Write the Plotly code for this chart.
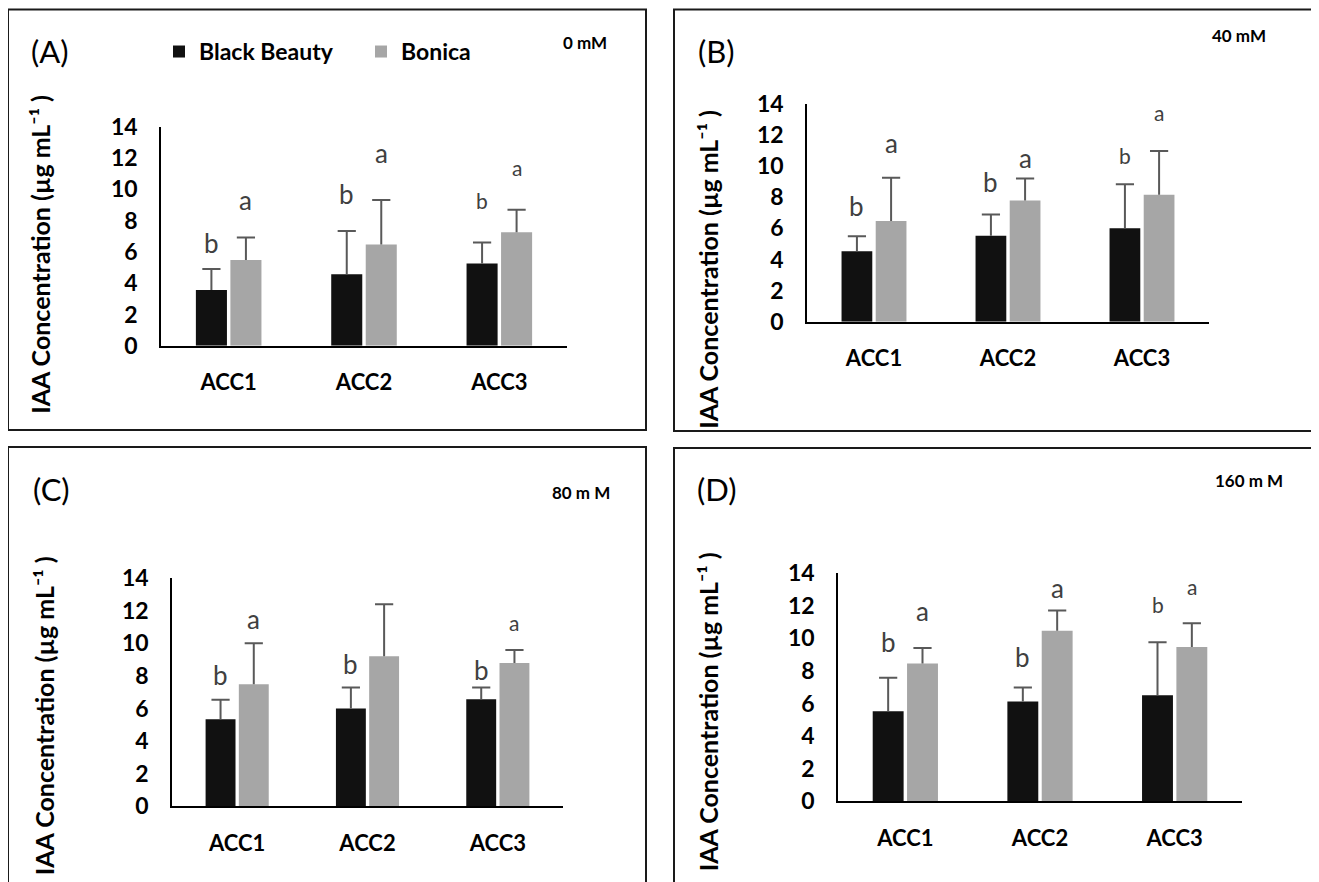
import plotly.graph_objects as go

# The page is photographed with a small vertical squeeze and a top offset;
# reference pixel positions are mapped through these to figure pixels.
W, H = 1311, 874
OX = 8          # horizontal page offset (body margin)
SY = 0.967      # vertical scale of the photographed page
TY = 25.3       # figure top, in page pixels

categories = ["ACC1", "ACC2", "ACC3"]
series_names = ["Black Beauty", "Bonica"]
panel_labels = ["(A)", "(B)", "(C)", "(D)"]
salt_labels = ["0 mM", "40 mM", "80 m M", "160 m M"]
y_title = "IAA Concentration (µg mL⁻¹ )"

# Mean IAA concentration (µg mL-1) per panel
bb_A = [3.57, 4.57, 5.26]
bon_A = [5.49, 6.47, 7.26]
bb_B = [4.53, 5.53, 6.00]
bon_B = [6.47, 7.78, 8.16]
bb_C = [5.34, 6.00, 6.57]
bon_C = [7.49, 9.20, 8.79]
bb_D = [5.52, 6.12, 6.51]
bon_D = [8.46, 10.47, 9.47]

# Positive error (SD)
bb_err_A = [1.34, 2.76, 1.34]
bon_err_A = [1.43, 2.85, 1.44]
bb_err_B = [0.96, 1.35, 2.82]
bon_err_B = [2.78, 1.41, 2.80]
bb_err_C = [1.19, 1.29, 0.72]
bon_err_C = [2.51, 3.20, 0.80]
bb_err_D = [2.06, 0.86, 3.24]
bon_err_D = [0.94, 1.23, 1.45]

# Significance letters and the height at which they are written
bb_letters = ["b", "b", "b"]
bon_letters = ["a", "a", "a"]
bb_let_y_A = [6.6, 9.7, 9.3]
bon_let_y_A = [9.3, 12.3, 11.4]
bb_let_y_B = [7.4, 9.0, 10.7]
bon_let_y_B = [11.5, 10.5, 13.4]
bb_let_y_C = [8.05, 8.7, 8.36]
bon_let_y_C = [11.46, 14.4, 11.3]
bb_let_y_D = [9.75, 8.83, 12.05]
bon_let_y_D = [11.7, 13.1, 13.2]
# small-letter flags (ACC1, ACC2, ACC3)
bb_small = {"A": [0, 0, 1], "B": [0, 0, 1], "C": [0, 0, 0], "D": [0, 0, 1]}
bon_small = {"A": [0, 0, 1], "B": [0, 0, 1], "C": [0, 0, 1], "D": [0, 0, 1]}

y_ticks = [0, 2, 4, 6, 8, 10, 12, 14]

FONT = "Lato, 'Open Sans', sans-serif"
BLACK = "#111111"
GRAY = "#a6a6a6"
ERR = "#595959"
LET = "#404040"
BARGAP = 0.49
GROUPGAP = 0.10


def px_x(p):
    return (p - OX) / W


def px_y(p):
    return 1 - (p / SY - TY) / H


# pixel geometry (reference picture pixels): plot area (x0, x1, y_at_0, y_at_14), frame, texts
panels = {
    "A": dict(plot=(161, 567, 347, 128), frame=(8, 646, 11, 431),
              lab=(50, 52), salt=(585, 44), ytitle=(40, 256)),
    "B": dict(plot=(807, 1209, 323, 105), frame=(674, 1318, 11, 432),
              lab=(716, 52), salt=(1239, 37), ytitle=(708, 270)),
    "C": dict(plot=(172, 563, 807, 579), frame=(8, 646, 448, 905),
              lab=(51, 490), salt=(581, 493), ytitle=(44, 717)),
    "D": dict(plot=(838, 1242, 802, 574), frame=(674, 1318, 449, 905),
              lab=(717, 490), salt=(1249, 482), ytitle=(708, 712)),
}

data = {
    "A": (bb_A, bon_A, bb_err_A, bon_err_A, bb_let_y_A, bon_let_y_A),
    "B": (bb_B, bon_B, bb_err_B, bon_err_B, bb_let_y_B, bon_let_y_B),
    "C": (bb_C, bon_C, bb_err_C, bon_err_C, bb_let_y_C, bon_let_y_C),
    "D": (bb_D, bon_D, bb_err_D, bon_err_D, bb_let_y_D, bon_let_y_D),
}

cat_idx = list(range(len(categories)))
slot = (1 - BARGAP) / 2
offsets = [-slot / 2, slot / 2]

fig = go.Figure()
layout = dict(
    width=W, height=H, margin=dict(l=0, r=0, t=0, b=0),
    paper_bgcolor="white", plot_bgcolor="white",
    barmode="group", bargap=BARGAP, bargroupgap=GROUPGAP,
    font=dict(family=FONT, color="black"),
    showlegend=True,
    legend=dict(orientation="h", x=px_x(159), y=px_y(53), yanchor="middle",
                xanchor="left", font=dict(family=FONT, size=23, weight=700, color="black"),
                bgcolor="rgba(0,0,0,0)", entrywidth=157, entrywidthmode="pixels",
                traceorder="normal"),
)
annotations = []
shapes = []

for i, key in enumerate(["A", "B", "C", "D"]):
    n = "" if i == 0 else str(i + 1)
    p = panels[key]
    x0, x1, y0p, y14p = p["plot"]
    bb, bon, bbe, bone, bly, bonly = data[key]

    for s, (vals, errs, color) in enumerate([(bb, bbe, BLACK), (bon, bone, GRAY)]):
        fig.add_trace(go.Bar(
            x=cat_idx, y=vals, name=series_names[s],
            marker=dict(color=color, line=dict(width=0)),
            xaxis="x" + n, yaxis="y" + n,
            showlegend=(i == 0), legendgroup=series_names[s],
        ))
    for s, (vals, errs) in enumerate([(bb, bbe), (bon, bone)]):
        # upward error bar: cap marker at mean + SD, stem down to the bar top
        tops = [v + e for v, e in zip(vals, errs)]
        fig.add_trace(go.Scatter(
            x=[c + offsets[s] for c in cat_idx], y=tops, mode="markers",
            marker=dict(symbol="line-ew", size=13, color=ERR,
                        line=dict(color=ERR, width=2)),
            error_y=dict(type="data", array=[0] * len(errs), arrayminus=errs,
                         symmetric=False, color=ERR, thickness=2, width=0),
            xaxis="x" + n, yaxis="y" + n,
            showlegend=False, hoverinfo="skip",
        ))

    layout["xaxis" + n] = dict(
        domain=[px_x(x0), px_x(x1)], anchor="y" + n, type="linear",
        range=[-0.5, 2.5], tickvals=cat_idx, ticktext=categories,
        showline=True, linecolor="black", linewidth=2,
        showgrid=False, zeroline=False, ticks="", ticklabelstandoff=16,
        tickfont=dict(family=FONT, size=22, weight=700, color="black"),
        fixedrange=True,
    )
    layout["yaxis" + n] = dict(
        domain=[px_y(y0p), px_y(y14p)], anchor="x" + n, range=[0, 14],
        tickvals=y_ticks, showline=True, linecolor="black", linewidth=1.5,
        showgrid=False, zeroline=False, ticks="", ticklabelstandoff=17,
        tickfont=dict(family=FONT, size=23, weight=700, color="black"),
        fixedrange=True,
    )

    # significance letters
    for s, (letters, ly, small) in enumerate([(bb_letters, bly, bb_small[key]),
                                              (bon_letters, bonly, bon_small[key])]):
        for c in cat_idx:
            annotations.append(dict(
                x=c + offsets[s], y=ly[c], xref="x" + n, yref="y" + n,
                text=letters[c], showarrow=False, xanchor="center", yanchor="middle",
                font=dict(family=FONT, size=21 if small[c] else 26, color=LET),
            ))

    # panel label, salt concentration, y title
    annotations.append(dict(x=px_x(p["lab"][0]), y=px_y(p["lab"][1]), xref="paper", yref="paper",
                            text=panel_labels[i], showarrow=False, xanchor="center", yanchor="middle",
                            font=dict(family=FONT, size=31, color="black")))
    annotations.append(dict(x=px_x(p["salt"][0]), y=px_y(p["salt"][1]), xref="paper", yref="paper",
                            text=salt_labels[i], showarrow=False, xanchor="center", yanchor="middle",
                            font=dict(family=FONT, size=17, weight=700, color="black")))
    annotations.append(dict(x=px_x(p["ytitle"][0]), y=px_y(p["ytitle"][1]), xref="paper", yref="paper",
                            text=y_title, textangle=-90,
                            showarrow=False, xanchor="center", yanchor="middle",
                            font=dict(family=FONT, size=25, weight=700, color="black")))

    fx0, fx1, fy0, fy1 = p["frame"]
    shapes.append(dict(type="rect", xref="paper", yref="paper",
                       x0=px_x(fx0), x1=px_x(fx1), y0=px_y(fy0), y1=px_y(fy1),
                       line=dict(color="#1a1a1a", width=2), fillcolor="rgba(0,0,0,0)",
                       layer="below"))

layout["annotations"] = annotations
layout["shapes"] = shapes
fig.update_layout(**layout)
fig.write_html("out.html", config={"displayModeBar": False})
